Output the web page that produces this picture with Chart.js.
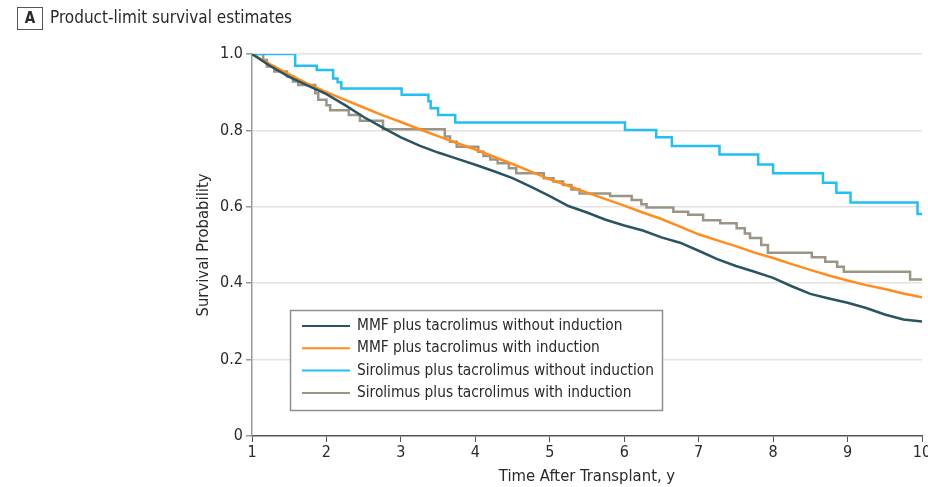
<!DOCTYPE html>
<html>
<head>
<meta charset="utf-8">
<script src="https://cdn.jsdelivr.net/npm/chart.js@4.4.1/dist/chart.umd.min.js"></script>
<style>
  html, body { margin: 0; padding: 0; background: #fff; }
  canvas { display: block; }
</style>
</head>
<body>
<canvas id="survivalChart" width="928" height="487"></canvas>
<script>
// Product-limit survival estimates (panel A)
const FONT = "'Liberation Sans Narrow', 'DejaVu Sans Condensed', sans-serif";

const seriesLabels = [
  "MMF plus tacrolimus without induction",
  "MMF plus tacrolimus with induction",
  "Sirolimus plus tacrolimus without induction",
  "Sirolimus plus tacrolimus with induction",
];
const seriesColors = ["#2b5462", "#ff8d1e", "#22bff0", "#9b9585"];

// MMF curves: read every quarter year
const mmfTimes = [1, 1.25, 1.5, 1.75, 2, 2.25, 2.5, 2.75, 3, 3.25, 3.5, 3.75, 4, 4.25, 4.5, 4.75,
  5, 5.25, 5.5, 5.75, 6, 6.25, 6.5, 6.75, 7, 7.25, 7.5, 7.75, 8, 8.25, 8.5, 8.75, 9, 9.25, 9.5, 9.75, 10];
const mmfNoInduction = [1.0, 0.968, 0.94, 0.917, 0.895, 0.866, 0.835, 0.808, 0.782, 0.76, 0.742, 0.726,
  0.71, 0.693, 0.675, 0.652, 0.628, 0.602, 0.585, 0.566, 0.551, 0.538, 0.52, 0.506, 0.485, 0.463, 0.445,
  0.43, 0.414, 0.392, 0.372, 0.36, 0.349, 0.335, 0.318, 0.305, 0.30];
const mmfInduction = [1.0, 0.972, 0.947, 0.922, 0.90, 0.88, 0.86, 0.84, 0.822, 0.803, 0.785, 0.767,
  0.75, 0.731, 0.712, 0.692, 0.672, 0.655, 0.637, 0.62, 0.603, 0.585, 0.568, 0.548, 0.528, 0.512, 0.497,
  0.48, 0.466, 0.45, 0.435, 0.42, 0.407, 0.395, 0.385, 0.373, 0.363];

// Sirolimus without induction: step times and survival after each step
const siroNoIndTimes = [1, 1.58, 1.87, 2.09, 2.15, 2.2, 3.01, 3.37, 3.4, 3.5, 3.73, 6.01, 6.43, 6.64,
  7.28, 7.8, 8.0, 8.67, 8.85, 9.04, 9.94, 10];
const siroNoInduction = [1.0, 0.969, 0.958, 0.936, 0.926, 0.91, 0.893, 0.876, 0.858, 0.84, 0.821, 0.801,
  0.782, 0.759, 0.737, 0.711, 0.688, 0.663, 0.637, 0.611, 0.581, 0.581];

// Sirolimus with induction
const siroIndTimes = [1, 1.15, 1.2, 1.3, 1.47, 1.55, 1.62, 1.85, 1.89, 2.0, 2.05, 2.3, 2.45, 2.76, 3.59,
  3.66, 3.75, 4.04, 4.11, 4.2, 4.3, 4.45, 4.55, 4.92, 5.05, 5.18, 5.29, 5.4, 5.81, 6.1, 6.23, 6.3, 6.66,
  6.86, 7.06, 7.29, 7.51, 7.62, 7.69, 7.84, 7.93, 8.52, 8.7, 8.86, 8.95, 9.84, 10];
const siroInduction = [1.0, 0.984, 0.967, 0.954, 0.941, 0.928, 0.919, 0.897, 0.88, 0.866, 0.853, 0.84,
  0.825, 0.803, 0.784, 0.77, 0.757, 0.744, 0.733, 0.724, 0.714, 0.701, 0.688, 0.675, 0.666, 0.657, 0.645,
  0.635, 0.628, 0.618, 0.607, 0.598, 0.587, 0.579, 0.565, 0.557, 0.544, 0.53, 0.518, 0.5, 0.48, 0.468,
  0.456, 0.443, 0.43, 0.41, 0.41];

const yTicks = [0, 0.2, 0.4, 0.6, 0.8, 1.0];
const yTickLabels = ["0", "0.2", "0.4", "0.6", "0.8", "1.0"];

function toPoints(times, values) {
  return times.map((t, i) => ({ x: t, y: values[i] }));
}

const titlePlugin = {
  id: "panelTitle",
  afterDraw(chart) {
    const ctx = chart.ctx;
    ctx.save();
    ctx.strokeStyle = "#555";
    ctx.lineWidth = 1;
    ctx.strokeRect(17.5, 7.5, 25, 22);
    ctx.fillStyle = "#2a2a2a";
    ctx.font = "bold 15px " + FONT;
    ctx.textAlign = "center";
    ctx.textBaseline = "middle";
    ctx.fillText("A", 30, 19);
    ctx.font = "17px " + FONT;
    ctx.textAlign = "left";
    ctx.fillText("Product-limit survival estimates", 50, 19);
    ctx.restore();
  },
};

const legendPlugin = {
  id: "legendBox",
  afterDatasetsDraw(chart) {
    const ctx = chart.ctx;
    ctx.save();
    ctx.fillStyle = "#fff";
    ctx.fillRect(290, 310, 373, 100);
    ctx.strokeStyle = "#8f8f8f";
    ctx.lineWidth = 1.5;
    ctx.strokeRect(290.5, 310.5, 372, 100);
    ctx.font = "15.3px " + FONT;
    ctx.textBaseline = "middle";
    chart.data.datasets.forEach((ds, i) => {
      const y = 326 + i * 22.3;
      ctx.strokeStyle = ds.borderColor;
      ctx.lineWidth = 2;
      ctx.beginPath();
      ctx.moveTo(302, y);
      ctx.lineTo(350, y);
      ctx.stroke();
      ctx.fillStyle = "#2a2a2a";
      ctx.fillText(ds.label, 357, y);
    });
    ctx.restore();
  },
};

const datasets = [
  { label: seriesLabels[0], data: toPoints(mmfTimes, mmfNoInduction), borderColor: seriesColors[0] },
  { label: seriesLabels[1], data: toPoints(mmfTimes, mmfInduction), borderColor: seriesColors[1] },
  { label: seriesLabels[2], data: toPoints(siroNoIndTimes, siroNoInduction), borderColor: seriesColors[2], stepped: "before" },
  { label: seriesLabels[3], data: toPoints(siroIndTimes, siroInduction), borderColor: seriesColors[3], stepped: "before" },
].map((ds) => Object.assign({ borderWidth: 2.5, pointRadius: 0, fill: false, tension: 0 }, ds));

datasets.forEach((ds, i) => { ds.order = i; });

new Chart(document.getElementById("survivalChart"), {
  type: "line",
  data: { datasets },
  options: {
    responsive: false,
    animation: false,
    layout: { padding: { left: 190, right: 6, top: 54, bottom: 0 } },
    plugins: { legend: { display: false }, tooltip: { enabled: false } },
    scales: {
      x: {
        type: "linear",
        min: 1,
        max: 10,
        afterBuildTicks(scale) {
          scale.ticks = [1, 2, 3, 4, 5, 6, 7, 8, 9, 10].map((v) => ({ value: v }));
        },
        afterFit(scale) {
          scale.height = 51;
          scale.paddingLeft = 0;
          scale.paddingRight = 0;
        },
        border: { color: "#555", width: 1.5 },
        grid: { drawOnChartArea: false, tickLength: 6, tickColor: "#555" },
        ticks: { color: "#2a2a2a", padding: 1, maxRotation: 0, font: { family: FONT, size: 16 } },
        title: {
          display: true,
          text: "Time After Transplant, y",
          color: "#2a2a2a",
          padding: { top: 0, bottom: 0 },
          font: { family: FONT, size: 16.5 },
        },
      },
      y: {
        min: 0,
        max: 1,
        afterBuildTicks(scale) {
          scale.ticks = yTicks.map((v) => ({ value: v }));
        },
        afterFit(scale) {
          scale.width = 62;
          scale.paddingTop = 0;
          scale.paddingBottom = 0;
        },
        border: { color: "#999", width: 1.5 },
        grid: {
          color: (c) => (c.tick && c.tick.value === 0 ? "rgba(0,0,0,0)" : "#e3e3e3"),
          lineWidth: 1.5,
          tickLength: 6,
          tickColor: "#999",
        },
        ticks: {
          color: "#2a2a2a",
          padding: 3,
          font: { family: FONT, size: 16 },
          callback: (value) => yTickLabels[yTicks.indexOf(value)],
        },
        title: {
          display: true,
          text: "Survival Probability",
          color: "#2a2a2a",
          padding: { top: 4, bottom: 0 },
          font: { family: FONT, size: 16.5 },
        },
      },
    },
  },
  plugins: [titlePlugin, legendPlugin],
});
</script>
</body>
</html>
